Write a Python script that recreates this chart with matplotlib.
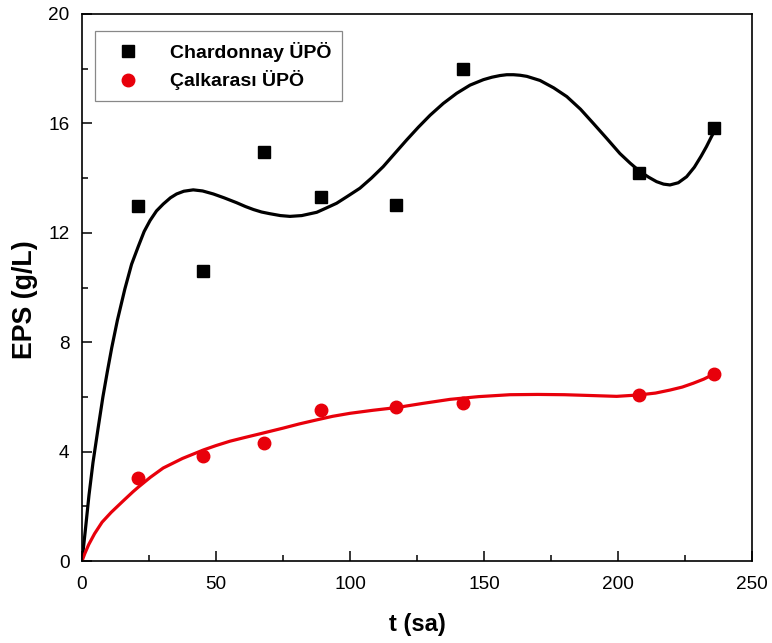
import matplotlib
matplotlib.use("Agg")
import matplotlib.pyplot as plt
from matplotlib.ticker import MultipleLocator
from matplotlib.lines import Line2D

plt.rcParams['font.family'] = ['Liberation Sans', 'DejaVu Sans']

# Measured data
t_points = [21, 45, 68, 89, 117, 142, 208, 236]
chardonnay = [12.98, 10.6, 14.97, 13.32, 13.0, 17.99, 14.2, 15.84]
calkarasi = [3.02, 3.84, 4.3, 5.52, 5.62, 5.77, 6.08, 6.84]

# Fitted curves
t_fit_black = [0, 1.25, 2.6, 4.1, 6, 7.8, 9.5, 11.1, 13.2, 16, 18.5, 21, 23.2, 25.4,
               27.8, 30.3, 33, 35.3, 38, 41.5, 45, 49, 53, 57.7, 61, 64, 67, 70,
               74, 77.6, 82, 87.6, 91, 95, 99, 103.7, 108, 112.4, 116.7, 121.1,
               125.5, 129.9, 134.8, 139.8, 144.8, 149.8, 153, 156, 158.5, 161,
               163.5, 166, 170.9, 176, 180.9, 186, 190.8, 195.8, 200.7, 204.5,
               208.2, 211.5, 214.4, 217, 219.4, 222.5, 225.6, 228.5, 231, 233,
               234.8, 236.2]
y_fit_black = [0, 1.13, 2.4, 3.6, 4.85, 6.0, 6.95, 7.8, 8.8, 9.95, 10.85, 11.5,
               12.05, 12.45, 12.8, 13.05, 13.28, 13.42, 13.52, 13.57, 13.53,
               13.42, 13.28, 13.1, 12.96, 12.85, 12.76, 12.7, 12.63, 12.6, 12.63,
               12.75, 12.9, 13.08, 13.33, 13.63, 14.0, 14.42, 14.9, 15.39, 15.86,
               16.3, 16.73, 17.1, 17.4, 17.6, 17.69, 17.75, 17.78, 17.78, 17.76,
               17.72, 17.57, 17.3, 16.98, 16.52, 16.0, 15.45, 14.9, 14.55, 14.24,
               14.03, 13.87, 13.78, 13.75, 13.83, 14.05, 14.4, 14.8, 15.15, 15.5,
               15.76]

t_fit_red = [0, 1, 2.5, 4.7, 7.5, 10.9, 15.4, 19, 21, 25.5, 30.3, 37.5, 45.3, 50,
             55.2, 60.5, 66.4, 75.1, 81, 87.6, 93.5, 100, 108.5, 117.4, 127,
             137.3, 148, 159.7, 170, 180, 190, 199.5, 207.6, 214, 219.4, 224,
             228.1, 232, 235.9]
y_fit_red = [0, 0.26, 0.6, 1.0, 1.42, 1.78, 2.2, 2.53, 2.7, 3.06, 3.4, 3.75,
             4.06, 4.22, 4.38, 4.51, 4.65, 4.86, 5.01, 5.16, 5.29, 5.4, 5.51, 5.61,
             5.76, 5.91, 6.01, 6.08, 6.09, 6.08, 6.05, 6.02, 6.07, 6.14, 6.25,
             6.36, 6.5, 6.65, 6.84]

labels = ['Chardonnay ÜPÖ', 'Çalkarası ÜPÖ']

fig = plt.figure(figsize=(7.72, 6.43), dpi=100)
ax = fig.add_axes([82/772, 1-561/643, 670/772, 547/643])

ax.plot(t_fit_black, y_fit_black, color='black', lw=2.3, solid_capstyle='round',
        solid_joinstyle='round', zorder=2)
ax.plot(t_fit_red, y_fit_red, color='#e8000b', lw=2.3, solid_capstyle='round',
        solid_joinstyle='round', zorder=2)
ax.plot(t_points, chardonnay, 's', color='black', ms=8.5, zorder=3, ls='none')
ax.plot(t_points, calkarasi, 'o', color='#e8000b', ms=9, zorder=3, ls='none')

ax.set_xlim(0, 250)
ax.set_ylim(0, 20)
ax.xaxis.set_major_locator(MultipleLocator(50))
ax.xaxis.set_minor_locator(MultipleLocator(25))
ax.yaxis.set_major_locator(MultipleLocator(4))
ax.yaxis.set_minor_locator(MultipleLocator(2))
ax.tick_params(which='both', direction='in', top=False, right=False, width=1.1)
ax.tick_params(which='major', length=7, labelsize=13.7)
ax.tick_params(axis='x', which='major', pad=11)
ax.tick_params(axis='y', which='major', pad=9)
ax.tick_params(which='minor', length=4.5)
for s in ax.spines.values():
    s.set_linewidth(1.2)

ax.set_xlabel('t (sa)', fontsize=17, fontweight='bold', labelpad=14)
ax.set_ylabel('EPS (g/L)', fontsize=19.3, fontweight='bold')
ax.yaxis.set_label_coords(-0.066, 0.477)

handles = [Line2D([], [], marker='s', color='black', ls='none', ms=8.5),
           Line2D([], [], marker='o', color='#e8000b', ls='none', ms=9)]
leg = ax.legend(handles, labels, loc='upper left', bbox_to_anchor=(0.019, 0.969),
                borderaxespad=0, fancybox=False, edgecolor='#888888', framealpha=1,
                prop={'weight': 'bold', 'size': 14}, handletextpad=1.0,
                borderpad=0.55, labelspacing=0.45, handlelength=2.3)
leg.get_frame().set_linewidth(0.9)

fig.savefig('out.png', dpi=100)
